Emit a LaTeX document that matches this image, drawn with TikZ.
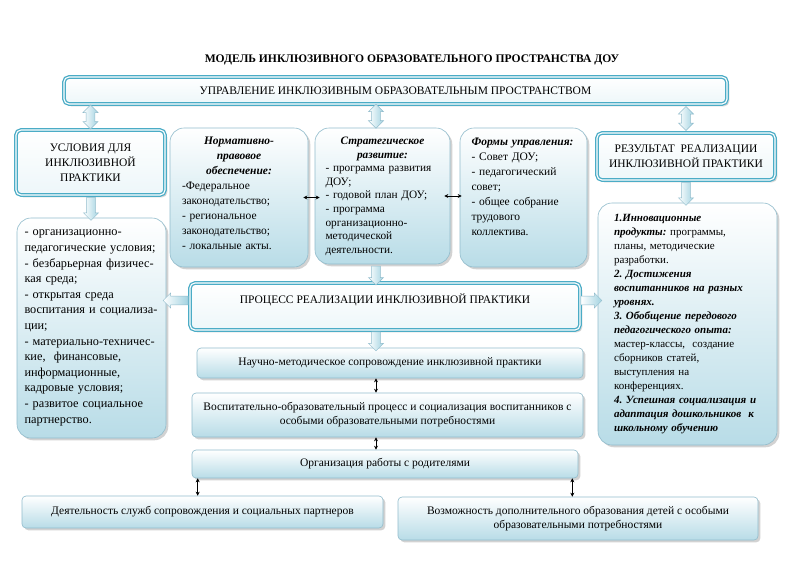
\documentclass[tikz,border=0pt]{standalone}
\usepackage{fontspec}
\setmainfont{Liberation Serif}
\usetikzlibrary{positioning,calc,shapes.arrows,shadows,arrows.meta}
\frenchspacing

\definecolor{aqua}{RGB}{75,172,198}
\definecolor{paleblue}{RGB}{184,220,231}
\definecolor{boxline}{RGB}{145,188,204}

\newcommand{\capsfont}{\fontsize{11.5}{15}\selectfont}
\newcommand{\listfont}{\fontsize{12.3}{15.6}\selectfont}
\newcommand{\midfont}{\fontsize{11.5}{15}\selectfont}
\newcommand{\resfont}{\fontsize{11}{14}\selectfont}
\newcommand{\rowfont}{\fontsize{11.5}{14}\selectfont}
\newcommand{\bi}[1]{\textbf{\textit{#1}}}
\newcommand{\topblock}[2]{\parbox[c][#1][t]{\linewidth}{\raggedright #2}}

\tikzset{every picture/.style={line width=0.75pt}}
\tikzset{
  headbox/.style={draw=aqua, double=white, double distance=1.1pt, line width=1.3pt, rounded corners=5pt, top color=white, bottom color=aqua!10, drop shadow={opacity=0.3}, align=center, font=\capsfont},
  infobox/.style={draw=boxline, line width=0.6pt, rounded corners=14pt, top color=white, bottom color=paleblue, drop shadow={opacity=0.35}},
  rowbox/.style={draw=boxline, line width=0.6pt, rounded corners=4pt, top color=white, bottom color=paleblue, drop shadow={opacity=0.35}, align=center, font=\rowfont},
  fatarrow/.style={draw=boxline, line width=0.5pt, left color=white, right color=paleblue!80!aqua, inner sep=4pt, minimum width=15pt},
  downarrow/.style={fatarrow, single arrow, single arrow head extend=3pt, rotate=-90},
  sidearrow/.style={fatarrow, single arrow, single arrow head extend=3pt},
  updownarrow/.style={fatarrow, double arrow, double arrow head extend=3pt, rotate=90},
  link/.style={{Stealth[length=4pt,width=4pt]}-{Stealth[length=4pt,width=4pt]}, line width=0.6pt}
}

\begin{document}
\begin{tikzpicture}[x=1pt,y=-1pt]
	% Draw background
	\fill[white] (0,0) rectangle (800,566);
	\useasboundingbox (0,0) rectangle (800,566);
	\coordinate (axis) at (376,0);

	% Draw title
	\node (title) at (412,60) {\fontsize{11.6}{13}\selectfont\bfseries МОДЕЛЬ ИНКЛЮЗИВНОГО ОБРАЗОВАТЕЛЬНОГО ПРОСТРАНСТВА ДОУ};

	% Draw main boxes
	\node[headbox, minimum width=663pt, minimum height=27pt] (mgmt) at (395.5,90.5) {УПРАВЛЕНИЕ ИНКЛЮЗИВНЫМ ОБРАЗОВАТЕЛЬНЫМ ПРОСТРАНСТВОМ};
	\node[headbox, minimum width=149pt, minimum height=65pt] (cond) at (90.5,162.5) {УСЛОВИЯ ДЛЯ\\ИНКЛЮЗИВНОЙ\\ПРАКТИКИ};
	\node[headbox, minimum width=178pt, minimum height=47pt] (result) at (686,156.5) {РЕЗУЛЬТАТ\ \ РЕАЛИЗАЦИИ\\ИНКЛЮЗИВНОЙ ПРАКТИКИ};
	\node[headbox, minimum width=390pt, minimum height=47pt] (process) at (385,306.5) {\parbox[c][25pt][t]{340pt}{\centering ПРОЦЕСС РЕАЛИЗАЦИИ ИНКЛЮЗИВНОЙ ПРАКТИКИ}};

	% Draw middle boxes
	\node[infobox, minimum width=138pt, minimum height=139pt, text width=114pt, font=\midfont] (norm) at (239,197.5) {\topblock{121pt}{{\centering\bi{Нормативно-}\\\bi{правовое}\\\bi{обеспечение:}\par}-Федеральное\\законодательство;\\- региональное\\законодательство;\\- локальные акты.}};
	\node[infobox, minimum width=135pt, minimum height=136pt, text width=114pt, font=\fontsize{11.3}{13.6}\selectfont] (strat) at (382.5,196) {\topblock{118pt}{{\centering\bi{Стратегическое}\\\bi{развитие:}\par}- программа развития\\ДОУ;\\- годовой план ДОУ;\\- программа\\организационно-\\методической\\деятельности.}};
	\node[infobox, minimum width=127pt, minimum height=139pt, text width=104pt, font=\midfont] (forms) at (523.5,197.5) {\topblock{119pt}{\bi{Формы управления:}\\- Совет ДОУ;\\- педагогический\\совет;\\- общее собрание\\трудового\\коллектива.}};

	% Draw list boxes
	\node[infobox, minimum width=149pt, minimum height=220pt, text width=134pt, align=left, font=\listfont] (condlist) at (91.5,328) {- организационно-\\педагогические условия;\\- безбарьерная физичес-\\кая среда;\\- открытая среда\\воспитания и социализа-\\ции;\\- материально-техничес-\\кие,\ \ финансовые,\\информационные,\\кадровые условия;\\- развитое социальное\\партнерство.};
	\node[infobox, minimum width=179pt, minimum height=242pt, text width=147pt, align=left, font=\resfont] (reslist) at (687.5,324) {\bi{1.Инновационные}\\\bi{продукты:} программы,\\планы, методические\\разработки.\\\bi{2. Достижения}\\\bi{воспитанников на разных}\\\bi{уровнях.}\\\bi{3. Обобщение передового}\\\bi{педагогического опыта:}\\мастер-классы,\ \ создание\\сборников статей,\\выступления на\\конференциях.\\\bi{4. Успешная социализация и}\\\bi{адаптация дошкольников\ \ к}\\\bi{школьному обучению}};

	% Draw process rows
	\node[rowbox, minimum width=386pt, minimum height=30pt] (sci) at (390,363) {Научно-методическое сопровождение инклюзивной практики};
	\node[rowbox, minimum width=391pt, minimum height=44pt] (edu) at (387.5,415) {Воспитательно-образовательный процесс и социализация воспитанников с\\особыми образовательными потребностями};
	\node[rowbox, minimum width=386pt, minimum height=28pt] (parents) at (385,464) {Организация работы с родителями};
	\node[rowbox, minimum width=361pt, minimum height=32pt] (services) at (202.5,512) {Деятельность служб сопровождения и социальных партнеров};
	\node[rowbox, minimum width=360pt, minimum height=43pt] (extra) at (578,518.5) {Возможность дополнительного образования детей с особыми\\образовательными потребностями};

	% Draw block arrows
	\node[updownarrow, minimum height=24pt] (mgmt-cond) at ($(cond.north)!0.5!(cond.north |- mgmt.south)$) {};
	\node[updownarrow, minimum height=24pt] (mgmt-strat) at ($(strat.north -| axis)!0.5!(mgmt.south -| axis)$) {};
	\node[updownarrow, minimum height=24pt] (mgmt-result) at ($(result.north)!0.5!(result.north |- mgmt.south)$) {};
	\node[downarrow, minimum height=23pt] (cond-list) at ($(cond.south)!0.5!(condlist.north)$) {};
	\node[downarrow, minimum height=23pt] (result-list) at ($(result.south)!0.5!(result.south |- reslist.north)$) {};
	\node[downarrow, minimum height=19pt] (strat-process) at ($(strat.south -| axis)!0.5!(process.north -| axis)$) {};
	\node[downarrow, minimum height=19pt] (process-sci) at ($(process.south -| axis)!0.5!(sci.north -| axis)$) {};
	\node[sidearrow, rotate=180, minimum height=25pt] (process-cond) at ([yshift=6pt]$(process.west)!0.5!(process.west -| condlist.east)$) {};
	\node[sidearrow, minimum height=21pt] (process-result) at ([yshift=6pt]$(process.east)!0.5!(process.east -| reslist.west)$) {};

	% Draw small double arrows
	\draw[link, shorten <=-5pt, shorten >=-5pt] (norm.east) -- (norm.east -| strat.west);
	\draw[link, shorten <=-6pt, shorten >=-2pt] (strat.east) -- (strat.east -| forms.west);
	\draw[link] (sci.south -| axis) -- (edu.north -| axis);
	\draw[link] (edu.south -| axis) -- (parents.north -| axis);
	\draw[link] ([xshift=6pt]parents.south west) -- ([xshift=6pt]parents.south west |- services.north);
	\draw[link] ([xshift=-6pt]parents.south east) -- ([xshift=-6pt]parents.south east |- extra.north);
\end{tikzpicture}
\end{document}
